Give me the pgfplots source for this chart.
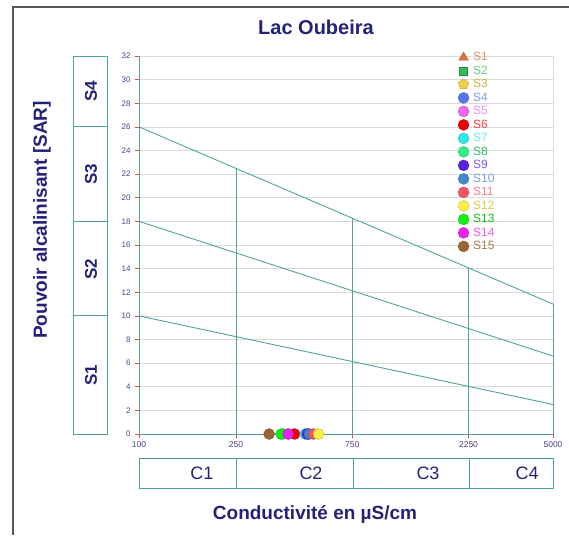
\documentclass[border=0pt]{standalone}
\usepackage{fontspec}
\setmainfont{Liberation Sans}
\usepackage{pgfplots}
\pgfplotsset{compat=1.18}
\definecolor{navy}{HTML}{22227A}
\definecolor{ticklab}{HTML}{4C3F8C}
\definecolor{tealc}{HTML}{4FA39C}
\definecolor{gridc}{HTML}{DADADA}
\definecolor{frm}{HTML}{555555}
\definecolor{c1}{HTML}{E0703A}
\definecolor{c2}{HTML}{33BB55}
\definecolor{c3}{HTML}{EFD040}
\definecolor{c4}{HTML}{5577EE}
\definecolor{c5}{HTML}{EE66EE}
\definecolor{c6}{HTML}{EE0000}
\definecolor{c7}{HTML}{33E6E6}
\definecolor{c8}{HTML}{33EE88}
\definecolor{c9}{HTML}{5522DD}
\definecolor{c10}{HTML}{4488CC}
\definecolor{c11}{HTML}{EE5566}
\definecolor{c12}{HTML}{FFEE44}
\definecolor{c13}{HTML}{11EE11}
\definecolor{c14}{HTML}{EE22EE}
\definecolor{c15}{HTML}{996633}
\begin{document}
\begin{tikzpicture}[x=1pt,y=1pt]
\begin{axis}[
  at={(139pt,101pt)}, anchor=south west,
  scale only axis, width=414pt, height=378pt,
  xmode=log, xmin=100, xmax=5000, ymin=0, ymax=32,
  xtick={100,250,750,2250,5000}, xticklabels={100,250,750,2250,5000},
  xminorticks=false,
  ytick={0,2,...,32},
  xtick pos=bottom, ytick pos=left,
  clip=false,
  axis line style={draw=none},
  ymajorgrids, grid style={gridc, line width=0.6pt},
  tick align=outside, major tick length=4pt,
  tick style={color=red!75, line width=0.6pt},
  /pgf/number format/assume math mode=true,
  yticklabel style={font=\fontsize{8}{8}\selectfont, color=ticklab, xshift=-1pt},
  xticklabel style={font=\fontsize{8.5}{8}\selectfont, color=ticklab},
  legend style={at={(0.763,1.02)}, anchor=north west, draw=none, fill=none,
    font=\fontsize{12}{13}\selectfont,
    nodes={text height=8.5pt, text depth=2pt, inner ysep=1.5pt, inner xsep=4pt},
    row sep=0pt},
  legend cell align=left,
  every axis plot/.append style={line width=0.9pt},
]
% grid edge and teal frame lines
\addplot[gridc, line width=0.6pt, forget plot] coordinates {(5000,0)(5000,32)};
\addplot[tealc, forget plot] coordinates {(100,0)(5000,0)};
\addplot[tealc, forget plot] coordinates {(100,0)(100,32)};
\addplot[tealc, forget plot] coordinates {(250,0)(250,22.49)};
\addplot[tealc, forget plot] coordinates {(750,0)(750,18.27)};
\addplot[tealc, forget plot] coordinates {(2250,0)(2250,14.06)};
\addplot[tealc, forget plot] coordinates {(5000,0)(5000,11)};
\addplot[tealc, forget plot] coordinates {(100,10)(5000,2.5)};
\addplot[tealc, forget plot] coordinates {(100,18)(5000,6.6)};
\addplot[tealc, forget plot] coordinates {(100,26)(5000,11)};
% samples
\addplot[only marks, mark=triangle*, mark size=5.5pt, fill=c1, draw=c1!75!black, line width=0.3pt] coordinates {(430,0)};
\addlegendentry{\color{c1!75}S1}
\addplot[only marks, mark=square*, mark size=4pt, fill=c2, draw=c2!75!black, line width=0.3pt] coordinates {(385,0)};
\addlegendentry{\color{c2!75}S2}
\addplot[only marks, mark=pentagon*, mark size=5.5pt, fill=c3, draw=c3!75!black, line width=0.3pt] coordinates {(540,0)};
\addlegendentry{\color{c3!85!black}S3}
\addplot[only marks, mark=*, mark size=5.5pt, fill=c4, draw=c4!75!black, line width=0.3pt] coordinates {(495,0)};
\addlegendentry{\color{c4!75}S4}
\addplot[only marks, mark=*, mark size=5.5pt, fill=c5, draw=c5!75!black, line width=0.3pt] coordinates {(410,0)};
\addlegendentry{\color{c5!75}S5}
\addplot[only marks, mark=*, mark size=5.5pt, fill=c6, draw=c6!75!black, line width=0.3pt] coordinates {(435,0)};
\addlegendentry{\color{c6!75}S6}
\addplot[only marks, mark=*, mark size=5.5pt, fill=c7, draw=c7!75!black, line width=0.3pt] coordinates {(480,0)};
\addlegendentry{\color{c7!75}S7}
\addplot[only marks, mark=*, mark size=5.5pt, fill=c8, draw=c8!75!black, line width=0.3pt] coordinates {(390,0)};
\addlegendentry{\color{c8!80!black}S8}
\addplot[only marks, mark=*, mark size=5.5pt, fill=c9, draw=c9!75!black, line width=0.3pt] coordinates {(490,0)};
\addlegendentry{\color{c9!75}S9}
\addplot[only marks, mark=*, mark size=5.5pt, fill=c10, draw=c10!75!black, line width=0.3pt] coordinates {(500,0)};
\addlegendentry{\color{c10!75}S10}
\addplot[only marks, mark=*, mark size=5.5pt, fill=c11, draw=c11!75!black, line width=0.3pt] coordinates {(520,0)};
\addlegendentry{\color{c11!75}S11}
\addplot[only marks, mark=*, mark size=5.5pt, fill=c12, draw=c12!75!black, line width=0.3pt] coordinates {(545,0)};
\addlegendentry{\color{c12!85!black}S12}
\addplot[only marks, mark=*, mark size=5.5pt, fill=c13, draw=c13!75!black, line width=0.3pt] coordinates {(383,0)};
\addlegendentry{\color{c13!80!black}S13}
\addplot[only marks, mark=*, mark size=5.5pt, fill=c14, draw=c14!75!black, line width=0.3pt] coordinates {(409,0)};
\addlegendentry{\color{c14!75}S14}
\addplot[only marks, mark=*, mark size=5.5pt, fill=c15, draw=c15!75!black, line width=0.3pt] coordinates {(342,0)};
\addlegendentry{\color{c15!85}S15}
\end{axis}
% outer frame (top and left)
\draw[frm, line width=1.5pt] (13,0) -- (13,528) -- (569,528);
% title and axis labels
\node[navy, font=\fontsize{20}{22}\selectfont\bfseries] at (316,508) {Lac Oubeira};
\node[navy, font=\fontsize{19}{22}\selectfont\bfseries, rotate=90] at (42,315) {Pouvoir alcalinisant [SAR]};
\node[navy, font=\fontsize{19}{22}\selectfont\bfseries] at (315,20) {Conductivité en µS/cm};
% S boxes
\draw[tealc, line width=0.9pt] (73,101) rectangle (107,479);
\draw[tealc, line width=0.9pt] (73,219.1) -- (107,219.1);
\draw[tealc, line width=0.9pt] (73,313.6) -- (107,313.6);
\draw[tealc, line width=0.9pt] (73,408.1) -- (107,408.1);
\begin{scope}[every node/.style={rotate=90, navy, font=\fontsize{17}{20}\selectfont\bfseries}]
\node at (91,160) {S1};
\node at (91,266) {S2};
\node at (91,361) {S3};
\node at (91,444) {S4};
\end{scope}
% C boxes
\draw[tealc, line width=0.9pt] (139,47) rectangle (553,77);
\draw[tealc, line width=0.9pt] (236,47) -- (236,77);
\draw[tealc, line width=0.9pt] (353,47) -- (353,77);
\draw[tealc, line width=0.9pt] (469,47) -- (469,77);
\begin{scope}[every node/.style={navy, font=\fontsize{18}{20}\selectfont}]
\node at (202,62) {C1};
\node at (311,62) {C2};
\node at (428,62) {C3};
\node at (527,62) {C4};
\end{scope}
\pgfresetboundingbox
\path (0,0) rectangle (569,535);
\end{tikzpicture}
\end{document}
